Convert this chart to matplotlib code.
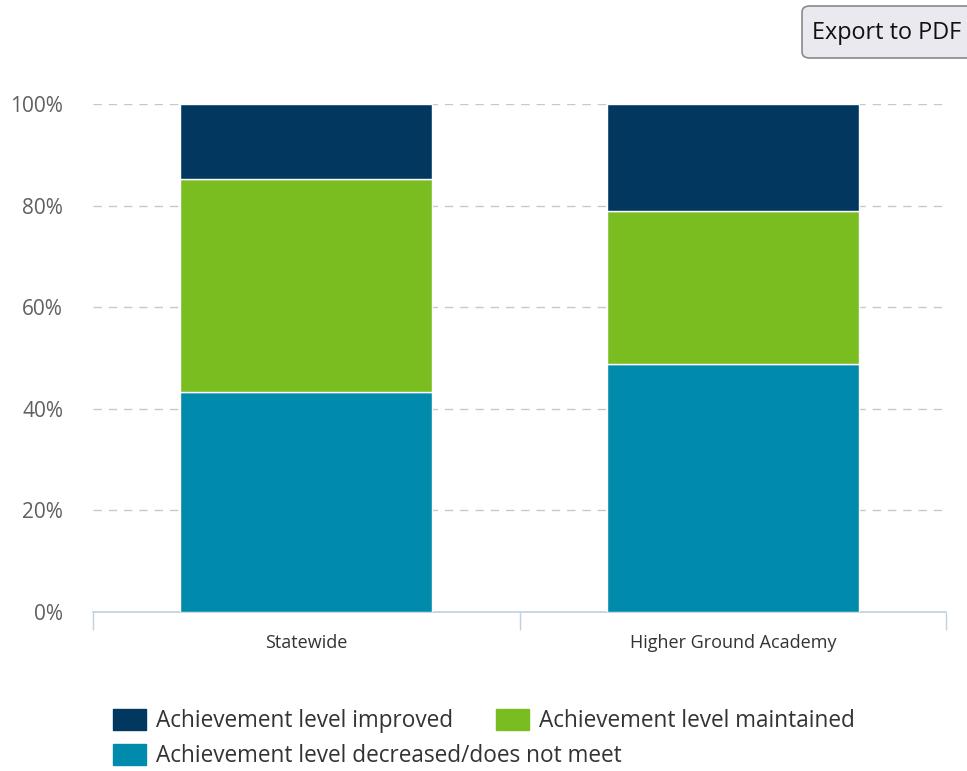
import matplotlib
matplotlib.use("Agg")
import matplotlib.pyplot as plt
from matplotlib.patches import FancyBboxPatch, Patch

plt.rcParams["font.family"] = ["Open Sans", "DejaVu Sans"]

categories = ["Statewide", "Higher Ground Academy"]
decreased = [43.3, 48.8]
maintained = [41.9, 30.2]
improved = [14.8, 21.0]
series_labels = [
    "Achievement level improved",
    "Achievement level maintained",
    "Achievement level decreased/does not meet",
]
yticks = [0, 20, 40, 60, 80, 100]

C_IMP = "#02375f"
C_MAIN = "#79bd21"
C_DEC = "#008aab"

fig = plt.figure(figsize=(9.67, 7.71), dpi=100)
ax = fig.add_axes([93 / 967, 1 - 612 / 771, (946 - 93) / 967, (612 - 104) / 771])

x = range(len(categories))
w = 0.59
ax.bar(x, decreased, w, color=C_DEC, edgecolor="white", linewidth=1, zorder=3)
ax.bar(x, maintained, w, bottom=decreased, color=C_MAIN, edgecolor="white", linewidth=1, zorder=3)
bot2 = [a + b for a, b in zip(decreased, maintained)]
ax.bar(x, improved, w, bottom=bot2, color=C_IMP, edgecolor="white", linewidth=1, zorder=3)

ax.set_xlim(-0.5, len(categories) - 0.5)
ax.set_ylim(0, 100)
ax.set_yticks(yticks)
ax.set_yticklabels([f"{v}%" for v in yticks])
ax.tick_params(axis="y", length=0, pad=21.5, labelsize=15, labelcolor="#606060")
for v in yticks[1:]:
    ax.axhline(v, color="#c8c8c8", lw=1, ls=(0, (6, 5)), zorder=1)

# category axis: boundary ticks, labels centred below
ax.set_xticks([i - 0.5 for i in range(len(categories) + 1)])
ax.set_xticklabels([])
ax.set_xticks(list(x), minor=True)
ax.set_xticklabels(categories, minor=True)
ax.tick_params(axis="x", which="major", length=13, width=1, color="#c0d0e0")
ax.tick_params(axis="x", which="minor", length=0, pad=16, labelsize=13, labelcolor="#333333")

for s in ["top", "right", "left"]:
    ax.spines[s].set_visible(False)
ax.spines["bottom"].set_color("#c0d0e0")
ax.spines["bottom"].set_linewidth(1.2)

leg_kw = dict(loc="upper left", frameon=False, fontsize=16.3, labelcolor="#333333",
              handlelength=1.46, handleheight=1.02, handletextpad=0.45,
              labelspacing=0.5, borderaxespad=0, borderpad=0)
fig.legend([Patch(color=C_IMP), Patch(color=C_DEC)],
           [series_labels[0], series_labels[2]],
           bbox_to_anchor=(113 / 967, 1 - 709 / 771), **leg_kw)
fig.legend([Patch(color=C_MAIN)], [series_labels[1]],
           bbox_to_anchor=(496 / 967, 1 - 709 / 771), **leg_kw)

# "Export to PDF" button
btn = FancyBboxPatch((802 / 967, 1 - 58 / 771), 175 / 967, 52 / 771,
                     boxstyle="round,pad=0,rounding_size=0.008",
                     transform=fig.transFigure, facecolor="#e9e9ef",
                     edgecolor="#8a8a8a", linewidth=1.2)
fig.patches.append(btn)
fig.text(812 / 967, 1 - 33 / 771, "Export to PDF", fontsize=16.8, color="#111111",
         va="center", ha="left")

fig.savefig("out.png", dpi=100)
